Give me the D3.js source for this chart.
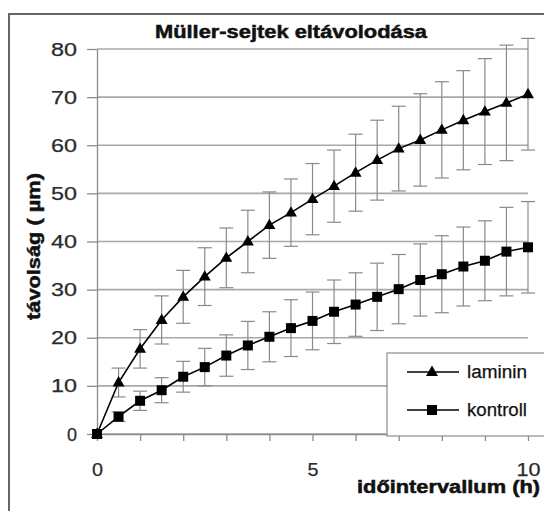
<!DOCTYPE html>
<html lang="hu">
    <head>
        <meta charset="UTF-8" />
        <title>Müller-sejtek eltávolodása</title>
        <script src="https://d3js.org/d3.v7.min.js"></script>
        <style>
            body {
                margin: 0;
                background: #fff;
            }
            svg text {
                font-family: 'Liberation Sans', Arial, sans-serif;
                fill: #111;
            }
            .grid line {
                stroke: #a8a8a8;
                stroke-width: 1.6px;
            }
            .axis path,
            .axis line {
                stroke: #8c8c8c;
                stroke-width: 1.3px;
            }
            .axis text {
                font-size: 19px;
                fill: #2a2a2a;
                stroke: #2a2a2a;
                stroke-width: 0.25px;
            }
            .err {
                stroke: #8a8a8a;
                stroke-width: 1.2px;
            }
            .series {
                fill: none;
                stroke: #000;
                stroke-width: 1.6px;
            }
            .title {
                font-size: 18px;
                font-weight: bold;
                stroke: #111;
                stroke-width: 0.5px;
            }
            .legend text {
                font-size: 18px;
                stroke: #111;
                stroke-width: 0.25px;
            }
        </style>
    </head>
    <body>
        <svg id="chart" width="544" height="511"></svg>

        <script>
            const hours = [0, 0.5, 1, 1.5, 2, 2.5, 3, 3.5, 4, 4.5, 5, 5.5, 6, 6.5, 7, 7.5, 8, 8.5, 9, 9.5, 10];
            const laminin = [0, 10.7, 17.7, 23.7, 28.5, 32.7, 36.6, 40.0, 43.4, 46.0, 48.8, 51.5, 54.3, 56.9, 59.3, 61.1, 63.2, 65.2, 67.0, 68.8, 70.6];
            const lamininErr = [0, 3, 4, 5, 5.5, 6, 6.2, 6.5, 6.9, 7, 7.4, 7.5, 8, 8.3, 8.8, 9.6, 10, 10.3, 11, 12, 11.6];
            const kontroll = [0, 3.6, 6.9, 9.1, 11.9, 13.9, 16.3, 18.4, 20.2, 22.0, 23.5, 25.4, 26.9, 28.5, 30.1, 32.0, 33.2, 34.8, 36.0, 37.9, 38.8];
            const kontrollErr = [0, 1, 2, 2.6, 3.2, 3.9, 4.3, 5, 5.2, 5.9, 6, 6.6, 6.6, 7, 7.2, 7.5, 8, 8.2, 8.3, 9.2, 9.5];
            const seriesNames = ['laminin', 'kontroll'];
            const yTicks = [0, 10, 20, 30, 40, 50, 60, 70, 80];
            const xTicks = [0, 1, 2, 3, 4, 5, 6, 7, 8, 9, 10];
            const xLabels = [0, 5, 10];

            const svg = d3.select('#chart');

            const x = d3.scaleLinear().domain([0, 10]).range([97, 528]);
            const y = d3.scaleLinear().domain([0, 80]).range([434, 49]);

            // outer frame (right and bottom edges fall outside the picture)
            svg.append('rect')
                .attr('x', 9)
                .attr('y', 14)
                .attr('width', 545)
                .attr('height', 520)
                .attr('fill', '#fff')
                .attr('stroke', '#666')
                .attr('stroke-width', 2);

            // horizontal gridlines
            svg.append('g')
                .attr('class', 'grid')
                .selectAll('line')
                .data(yTicks)
                .join('line')
                .attr('x1', x(0))
                .attr('x2', x(10))
                .attr('y1', (d) => y(d))
                .attr('y2', (d) => y(d));

            const yAxis = svg.append('g')
                .attr('class', 'axis')
                .attr('transform', `translate(${x(0)},0)`)
                .call(d3.axisLeft(y).tickValues(yTicks).tickSize(10).tickSizeOuter(0).tickPadding(10));
            yAxis.selectAll('text')
                .attr('textLength', (d) => (d >= 10 ? 26 : 10))
                .attr('lengthAdjust', 'spacingAndGlyphs');

            const xAxis = svg.append('g')
                .attr('class', 'axis')
                .attr('transform', `translate(0,${y(0)})`)
                .call(
                    d3.axisBottom(x)
                        .tickValues(xTicks)
                        .tickSize(7)
                        .tickSizeOuter(0)
                        .tickPadding(22)
                        .tickFormat((d) => (xLabels.includes(d) ? d : ''))
                );
            xAxis.selectAll('.tick').filter((d) => !xLabels.includes(d)).select('text').remove();
            xAxis.selectAll('text')
                .attr('textLength', (d) => (d >= 10 ? 24 : 11))
                .attr('lengthAdjust', 'spacingAndGlyphs');

            // error bars
            const errData = [
                ...hours.map((h, i) => ({ h, v: laminin[i], e: lamininErr[i] })),
                ...hours.map((h, i) => ({ h, v: kontroll[i], e: kontrollErr[i] })),
            ].filter((d) => d.e > 0);

            const eb = svg.append('g').attr('class', 'err');
            eb.selectAll('line.v')
                .data(errData)
                .join('line')
                .attr('class', 'v')
                .attr('x1', (d) => x(d.h))
                .attr('x2', (d) => x(d.h))
                .attr('y1', (d) => y(d.v + d.e))
                .attr('y2', (d) => y(d.v - d.e));
            [1, -1].forEach((s) => {
                eb.selectAll(`line.cap${s}`)
                    .data(errData)
                    .join('line')
                    .attr('class', `cap${s}`)
                    .attr('x1', (d) => x(d.h) - 7)
                    .attr('x2', (d) => x(d.h) + 7)
                    .attr('y1', (d) => y(d.v + s * d.e))
                    .attr('y2', (d) => y(d.v + s * d.e));
            });

            const line = d3
                .line()
                .x((d) => x(d[0]))
                .y((d) => y(d[1]));

            const lamPts = hours.map((h, i) => [h, laminin[i]]);
            const konPts = hours.map((h, i) => [h, kontroll[i]]);

            svg.append('path').attr('class', 'series').attr('d', line(lamPts));
            svg.append('path').attr('class', 'series').attr('d', line(konPts));

            const tri = d3.symbol().type(d3.symbolTriangle).size(62);
            const sq = d3.symbol().type(d3.symbolSquare).size(100);

            svg.append('g')
                .selectAll('path')
                .data(lamPts)
                .join('path')
                .attr('d', tri)
                .attr('transform', (d) => `translate(${x(d[0])},${y(d[1]) + 0.5})`)
                .attr('fill', '#000');

            svg.append('g')
                .selectAll('path')
                .data(konPts)
                .join('path')
                .attr('d', sq)
                .attr('transform', (d) => `translate(${x(d[0])},${y(d[1])})`)
                .attr('fill', '#000');

            // title
            svg.append('text')
                .attr('class', 'title')
                .attr('x', 155)
                .attr('y', 37.5)
                .attr('textLength', 272)
                .attr('lengthAdjust', 'spacingAndGlyphs')
                .text('Müller-sejtek eltávolodása');

            // axis titles
            svg.append('text')
                .attr('class', 'title')
                .attr('font-size', 17)
                .attr('text-anchor', 'middle')
                .attr('transform', 'translate(39.5,246.5) rotate(-90)')
                .attr('textLength', 147)
                .attr('lengthAdjust', 'spacingAndGlyphs')
                .text('távolság ( µm)');

            svg.append('text')
                .attr('class', 'title')
                .attr('x', 357)
                .attr('y', 493)
                .attr('textLength', 183)
                .attr('lengthAdjust', 'spacingAndGlyphs')
                .text('időintervallum (h)');

            // legend
            const legend = svg.append('g').attr('class', 'legend');
            legend.append('rect')
                .attr('x', 387)
                .attr('y', 353)
                .attr('width', 160)
                .attr('height', 83)
                .attr('fill', '#fff')
                .attr('stroke', '#8c8c8c')
                .attr('stroke-width', 1.2);

            const rows = legend.selectAll('g.row')
                .data(seriesNames)
                .join('g')
                .attr('class', 'row')
                .attr('transform', (d, i) => `translate(0,${372 + i * 38})`);
            rows.append('line')
                .attr('x1', 407)
                .attr('x2', 459)
                .attr('stroke', '#000')
                .attr('stroke-width', 1.6);
            rows.append('path')
                .attr('d', (d, i) => (i === 0 ? tri() : sq()))
                .attr('transform', (d, i) => `translate(432,${i === 0 ? 0.5 : 0})`)
                .attr('fill', '#000');
            rows.append('text')
                .attr('x', 467)
                .attr('dy', '0.35em')
                .attr('textLength', 60)
                .attr('lengthAdjust', 'spacingAndGlyphs')
                .text((d) => d);
        </script>
    </body>
</html>
